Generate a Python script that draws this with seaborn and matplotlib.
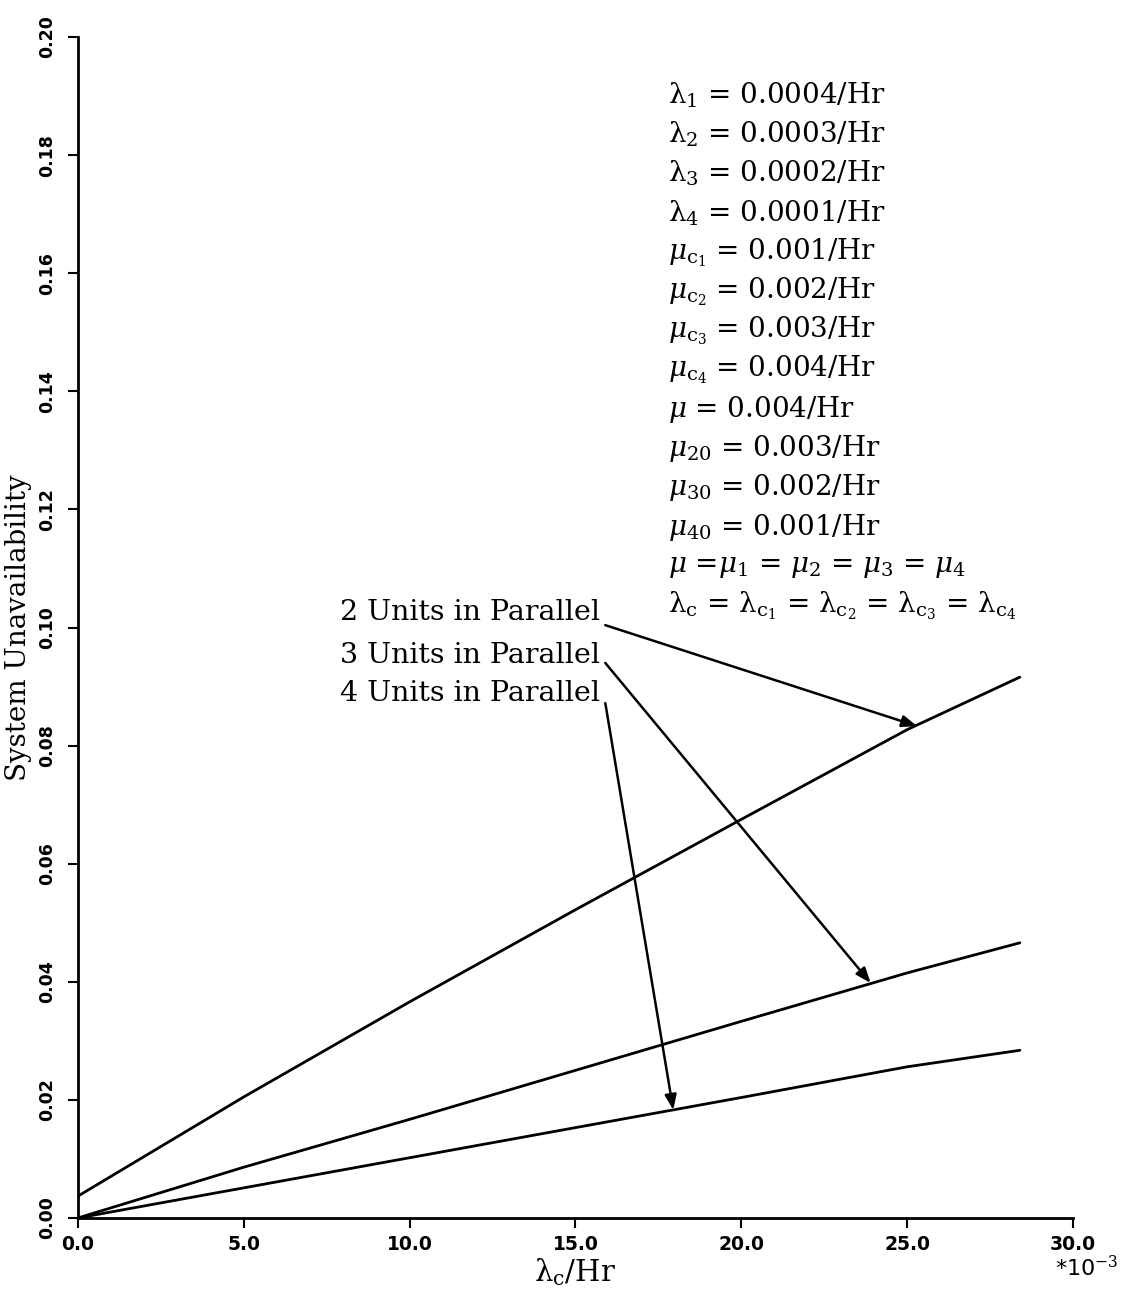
import matplotlib
matplotlib.use("Agg")
import matplotlib.pyplot as plt
import numpy as np
import pandas as pd
import seaborn as sns

# ---------------- data ----------------
lam_c = [0.0, 5.0, 10.0, 15.0, 20.0, 25.0, 28.4]          # x  (x 10^-3 /Hr)
unavail_2 = [0.0037, 0.0205, 0.0366, 0.0522, 0.0675, 0.0827, 0.0916]
unavail_3 = [0.0, 0.0086, 0.0167, 0.0250, 0.0333, 0.0415, 0.0466]
unavail_4 = [0.0, 0.0051, 0.0102, 0.0153, 0.0204, 0.0256, 0.0284]
series_names = ["2 Units in Parallel", "3 Units in Parallel", "4 Units in Parallel"]

x_ticks = [0, 5, 10, 15, 20, 25, 30]
x_tick_labels = ["0.0", "5.0", "10.0", "15.0", "20.0", "25.0", "30.0"]
y_ticks = [0.00, 0.02, 0.04, 0.06, 0.08, 0.10, 0.12, 0.14, 0.16, 0.18, 0.20]
y_tick_labels = ["0.00", "0.02", "0.04", "0.06", "0.08", "0.10",
                 "0.12", "0.14", "0.16", "0.18", "0.20"]

param_lines = [
    r"λ$_1$ = 0.0004/Hr",
    r"λ$_2$ = 0.0003/Hr",
    r"λ$_3$ = 0.0002/Hr",
    r"λ$_4$ = 0.0001/Hr",
    r"$\mu_{\mathrm{c}_1}$ = 0.001/Hr",
    r"$\mu_{\mathrm{c}_2}$ = 0.002/Hr",
    r"$\mu_{\mathrm{c}_3}$ = 0.003/Hr",
    r"$\mu_{\mathrm{c}_4}$ = 0.004/Hr",
    r"$\mu$ = 0.004/Hr",
    r"$\mu_{20}$ = 0.003/Hr",
    r"$\mu_{30}$ = 0.002/Hr",
    r"$\mu_{40}$ = 0.001/Hr",
    r"$\mu$ =$\mu_1$ = $\mu_2$ = $\mu_3$ = $\mu_4$",
    r"λ$_\mathrm{c}$ = λ$_{\mathrm{c}_1}$ = λ$_{\mathrm{c}_2}$ = λ$_{\mathrm{c}_3}$ = λ$_{\mathrm{c}_4}$",
]

# label anchor (end of text) and arrow tip, data coords
label_pos = [(15.75, 0.1026), (15.75, 0.0953), (15.75, 0.0889)]
arrow_start = [(15.9, 0.1004), (15.9, 0.0940), (15.9, 0.0872)]
arrow_tip = [(25.3, 0.0833), (23.9, 0.0398), (17.95, 0.0183)]

# ---------------- styling ----------------
sns.set_style("ticks")
plt.rcParams["font.family"] = ["DejaVu Serif", "DejaVu Sans"]
plt.rcParams["mathtext.fontset"] = "dejavuserif"
plt.rcParams["text.color"] = "black"
plt.rcParams["axes.labelcolor"] = "black"
plt.rcParams["xtick.color"] = "black"
plt.rcParams["ytick.color"] = "black"

df = pd.DataFrame({
    "x": lam_c * 3,
    "y": unavail_2 + unavail_3 + unavail_4,
    "series": sum([[s] * len(lam_c) for s in series_names], []),
})

fig = plt.figure(figsize=(11.28, 13.0), dpi=100)
ax = fig.add_axes([0.0691, 0.0631, 0.8821, 0.9084])

sns.lineplot(data=df, x="x", y="y", hue="series", palette=["black"] * 3,
             linewidth=2.0, legend=False, ax=ax)

ax.set_xlim(0, 30)
ax.set_ylim(0, 0.20)
ax.set_xticks(x_ticks)
ax.set_xticklabels(x_tick_labels, family="DejaVu Sans", fontweight="bold",
                   fontsize=13.5)
ax.set_yticks(y_ticks)
ax.set_yticklabels(y_tick_labels, family="DejaVu Sans", fontweight="bold",
                   fontsize=12.5, rotation=90, va="center")
ax.tick_params(axis="both", direction="out", length=7, width=1.5, color="black")
ax.tick_params(axis="y", pad=9)
ax.tick_params(axis="x", pad=5)

for side in ["top", "right"]:
    ax.spines[side].set_visible(False)
for side in ["left", "bottom"]:
    ax.spines[side].set_linewidth(2.0)
    ax.spines[side].set_color("black")

ax.set_xlabel(r"λ$_\mathrm{c}$/Hr", fontsize=21, labelpad=2)
ax.set_ylabel("System Unavailability", fontsize=20, labelpad=4)

# scale factor under last x tick
ax.text(30.4, -0.0062, r"*10$^{-3}$", ha="center", va="top", fontsize=16,
        family="DejaVu Sans", clip_on=False)

# parameter block
y0 = 1 - 95 / 1300
dy = 39.3 / 1300
for i, line in enumerate(param_lines):
    fig.text(668 / 1128, y0 - i * dy, line, ha="left", va="center", fontsize=20)

# series labels with arrows
for name, lp, st, tp in zip(series_names, label_pos, arrow_start, arrow_tip):
    ax.text(lp[0], lp[1], name, ha="right", va="center", fontsize=20.5)
    ax.annotate("", xy=tp, xytext=st,
                arrowprops=dict(arrowstyle="-|>,head_length=0.9,head_width=0.35",
                                color="black", lw=1.8, shrinkA=0, shrinkB=0))

fig.savefig("out.png", dpi=100, facecolor="white")
